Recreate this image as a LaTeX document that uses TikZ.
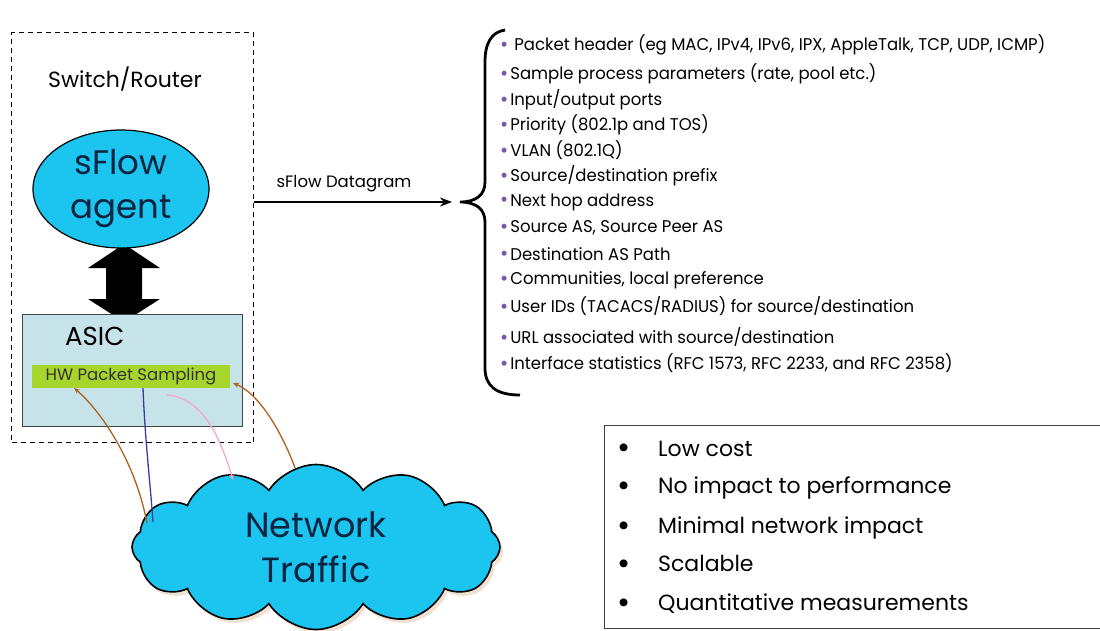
\documentclass[tikz,border=0pt]{standalone}
\usepackage{fontspec}
\usepackage{graphicx}
\setmainfont{Poppins}
\newfontfamily\listfont[FakeStretch=0.97]{Poppins}
\usetikzlibrary{shapes.geometric,shapes.symbols,shadows,arrows.meta}
\definecolor{cyanfill}{HTML}{1CC4F0}
\definecolor{navytext}{HTML}{0C2440}
\definecolor{asicfill}{HTML}{C6E3EA}
\definecolor{asicedge}{HTML}{404848}
\definecolor{hwgreen}{HTML}{A6D62C}
\definecolor{brownline}{HTML}{B0621E}
\definecolor{blueline}{HTML}{3A3E9A}
\definecolor{pinkline}{HTML}{F2A8D2}
\definecolor{bulletc}{HTML}{7A55A8}
\tikzset{
  listitem/.style={anchor=west, inner sep=0pt, font=\listfont\fontsize{17}{17}\selectfont},
  benefit/.style={anchor=west, inner sep=0pt, font=\fontsize{22}{22}\selectfont},
  feed/.style={line width=1.3pt, -{Stealth[length=6pt,width=5pt]}},
}
\newcommand{\lb}{{\color{bulletc}\raisebox{-0.05em}{\scalebox{1.2}{\textbullet}}}\hspace{2pt}}
\newcommand{\bb}{\makebox[41pt][l]{\raisebox{-0.12em}{\scalebox{1.45}{\textbullet}}}}
\begin{document}
\begin{tikzpicture}[x=1pt,y=-1pt]
\useasboundingbox (0,0) rectangle (1100,630);
\fill[white] (0,0) rectangle (1100,630);

% switch/router container
\node (router) [draw, line width=1.1pt, dash pattern=on 5pt off 4pt,
  minimum width=242pt, minimum height=410pt, anchor=north west, inner sep=0pt] at (11,32) {};
\node (routerlbl) [font=\fontsize{22}{22}\selectfont] at (125,79) {Switch/Router};

% double arrow agent <-> asic
\fill (124,244) -- (160,268) -- (142,268) -- (142,299) -- (160,299) -- (124,322)
   -- (88,299) -- (106,299) -- (106,268) -- (88,268) -- cycle;

% sFlow agent
\node (agent) [ellipse, draw, line width=1.2pt, fill=cyanfill, minimum width=176pt,
  minimum height=118pt, align=center, text=navytext, inner sep=0pt,
  font=\fontsize{34}{44}\selectfont] at (121,189) {sFlow\\agent};

% ASIC
\node (asic) [draw=asicedge, line width=1.1pt, fill=asicfill, minimum width=220pt,
  minimum height=112pt, anchor=north west, inner sep=0pt] at (22,314) {};
\node (asiclbl) [anchor=west, inner sep=0pt, font=\fontsize{26}{26}\selectfont] at (65,336) {ASIC};
\node (hw) [fill=hwgreen, minimum width=198pt, minimum height=23pt, inner sep=0pt,
  text=black!80, font=\fontsize{16.5}{16.5}\selectfont] at (131,376.5) {HW Packet Sampling};

% network cloud
\node (cloud) [cloud, cloud puffs=12, cloud puff arc=115, aspect=2.3, draw, line width=1.6pt,
  fill=cyanfill, minimum width=368pt, minimum height=165pt, align=center, text=navytext,
  font=\fontsize{35}{45}\selectfont,
  drop shadow={shadow xshift=3pt, shadow yshift=-4pt, fill=brown!50, opacity=0.45}]
  at (316,547) {Network\\Traffic};

% sampling connectors
\coordinate (c1s) at (147,523);
\coordinate (c1e) at (74,388);
\coordinate (c2s) at (143,388);
\coordinate (c2e) at (153,522);
\coordinate (c3s) at (167,395);
\coordinate (c3e) at (233,480);
\coordinate (c4s) at (295,468);
\coordinate (c4e) at (233,383);
\draw[feed, draw=brownline] (c1s) .. controls (135,460) and (100,410) .. (c1e);
\draw[line width=1.3pt, draw=blueline] (c2s) .. controls (145,440) and (150,480) .. (c2e);
\draw[feed, draw=pinkline] (c3s) .. controls (200,398) and (218,430) .. (c3e);
\draw[feed, draw=brownline] (c4s) .. controls (285,440) and (262,395) .. (c4e);

% datagram arrow and brace
\coordinate (btip) at (460,202);
\coordinate (dgend) at (452,202);
\draw[line width=1.8pt, -{Stealth[length=12pt,width=9pt]}] (router.east |- btip) -- (dgend);
\node (dglbl) [font=\fontsize{16.5}{16.5}\selectfont] at (344,184) {sFlow Datagram};
\draw[line width=2.8pt] (505,30) .. controls (492,32) and (485,42) .. (485,62) -- (485,182)
  .. controls (485,195) and (476,202) .. (btip)
  .. controls (476,202) and (485,209) .. (485,222) -- (485,368)
  .. controls (485,386) and (496,395) .. (520,395);

% datagram contents
\node (l1)  [listitem] at (500,45)  {\lb\hspace{4pt}Packet header (eg MAC, IPv4, IPv6, IPX, AppleTalk, TCP, UDP, ICMP)};
\node (l2)  [listitem] at (500,74)  {\lb Sample process parameters (rate, pool etc.)};
\node (l3)  [listitem] at (500,100) {\lb Input/output ports};
\node (l4)  [listitem] at (500,125) {\lb Priority (802.1p and TOS)};
\node (l5)  [listitem] at (500,150) {\lb VLAN (802.1Q)};
\node (l6)  [listitem] at (500,176) {\lb Source/destination prefix};
\node (l7)  [listitem] at (500,202) {\lb Next hop address};
\node (l8)  [listitem] at (500,228) {\lb Source AS, Source Peer AS};
\node (l9)  [listitem] at (500,254) {\lb Destination AS Path};
\node (l10) [listitem] at (500,280) {\lb Communities, local preference};
\node (l11) [listitem] at (500,306) {\lb User IDs (TACACS/RADIUS) for source/destination};
\node (l12) [listitem] at (500,337) {\lb URL associated with source/destination};
\node (l13) [listitem] at (500,363) {\lb Interface statistics (RFC 1573, RFC 2233, and RFC 2358)};

% benefits box
\node (benefits) [draw=black!75, line width=1.1pt, minimum width=500pt, minimum height=203pt,
  anchor=north west, inner sep=0pt] at (604,425) {};
\node (b1) [benefit] at (617,450) {\bb Low cost};
\node (b2) [benefit] at (617,488) {\bb No impact to performance};
\node (b3) [benefit] at (617,528) {\bb Minimal network impact};
\node (b4) [benefit] at (617,565) {\bb Scalable};
\node (b5) [benefit] at (617,604) {\bb Quantitative measurements};
\end{tikzpicture}
\end{document}
